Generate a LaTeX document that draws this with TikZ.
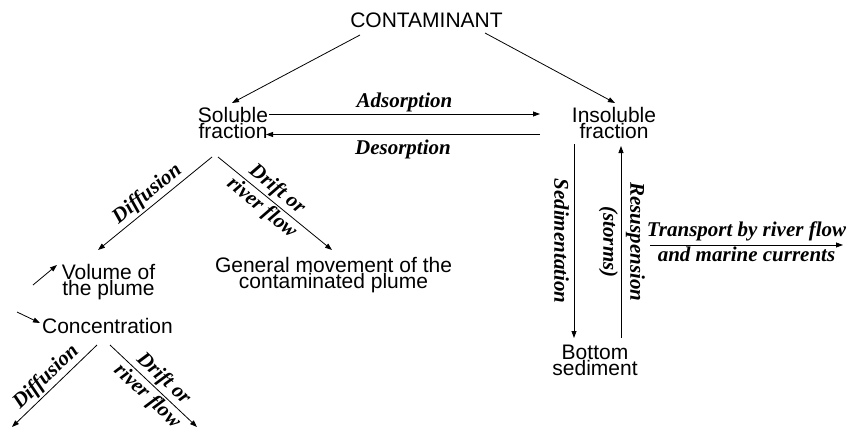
\documentclass[tikz,border=0pt]{standalone}
\usepackage{fontspec}
\setmainfont{Liberation Sans}
\newfontfamily\labfont{Liberation Serif}
\usetikzlibrary{arrows.meta}
\begin{document}
\begin{tikzpicture}[x=1pt,y=-1pt,
  box/.style={inner sep=0pt, align=center, font=\fontsize{21}{16}\selectfont},
  lab/.style={font=\labfont\bfseries\itshape\fontsize{21}{24}\selectfont, inner sep=2pt},
  arr/.style={-{Triangle[length=7pt,width=5pt]}, line width=0.8pt},
  ln/.style={line width=0.8pt}]
\useasboundingbox (0,0) rectangle (849,436);

% nodes
\node[box, anchor=base] (cont) at (426.5,28) {CONTAMINANT};
\node[box] (sol) at (233,122.5) {Soluble\\fraction};
\node[box] (ins) at (614,122.5) {Insoluble\\fraction};
\node[box] (vol) at (108.5,281.6) {Volume of\\the plume};
\node[box, anchor=base] (conc) at (107.5,333) {Concentration};
\node[box] (gen) at (333.5,274.6) {General movement of the\\contaminated plume};
\node[box] (bot) at (595,360.5) {Bottom\\sediment};

% free ends
\coordinate (vin) at (33,285);
\coordinate (cin) at (17,312);
\coordinate (ldiff) at (12,427);
\coordinate (ldrift) at (197,427);
\coordinate (trA) at (650,245);
\coordinate (trB) at (843,245);

% contaminant split
\draw[arr] ([xshift=-66.5pt,yshift=-7pt]cont.base) -- ([xshift=-1pt,yshift=19.5pt]sol.center);
\draw[arr] ([xshift=58.5pt,yshift=-5pt]cont.base) -- ([xshift=1pt,yshift=19.5pt]ins.center);

% adsorption / desorption
\draw[arr] ([xshift=36pt,yshift=8.5pt]sol.center) -- ([xshift=-74pt,yshift=8.5pt]ins.center)
  node[lab, midway, above] {Adsorption};
\draw[arr] ([xshift=-74pt,yshift=-12pt]ins.center) -- ([xshift=33pt,yshift=-12pt]sol.center)
  node[lab, midway, below, yshift=-3pt] {Desorption};

% soluble branches
\draw[arr] ([xshift=-21pt,yshift=-34.5pt]sol.center) -- ([xshift=-10.5pt,yshift=31.6pt]vol.center)
  node[lab, pos=0.5, sloped, above] {Diffusion};
\draw[arr] ([xshift=-15pt,yshift=-34.5pt]sol.center) -- ([xshift=-1.5pt,yshift=24.6pt]gen.center)
  node[lab, pos=0.45, sloped, above] {Drift or}
  node[lab, pos=0.45, sloped, below] {river flow};

% small arrows
\draw[arr] (vin) -- ([xshift=-51.5pt,yshift=16.6pt]vol.center);
\draw[arr] (cin) -- ([xshift=-67.5pt,yshift=10pt]conc.base);

% concentration branches
\draw[arr] ([xshift=-10.5pt,yshift=-12pt]conc.base) -- (ldiff)
  node[lab, pos=0.5, sloped, above] {Diffusion};
\draw[arr] ([xshift=2.5pt,yshift=-12pt]conc.base) -- (ldrift)
  node[lab, pos=0.52, sloped, above] {Drift or}
  node[lab, pos=0.52, sloped, below] {river flow};

% sedimentation / resuspension
\draw[arr] ([xshift=-40pt,yshift=-21.5pt]ins.center) -- ([xshift=-21pt,yshift=22.5pt]bot.center)
  node[lab, pos=0.5, rotate=-90, anchor=north, outer sep=3pt] {Sedimentation};
\draw[arr] ([xshift=26pt,yshift=22.5pt]bot.center) -- ([xshift=7pt,yshift=-23.5pt]ins.center)
  node[lab, pos=0.5, rotate=-90, anchor=south, outer sep=3pt] {Resuspension}
  node[lab, pos=0.5, rotate=-90, anchor=north, outer sep=1pt] {(storms)};

% transport
\draw[arr] (trA) -- (trB)
  node[lab, midway, above, yshift=2pt] {Transport by river flow}
  node[lab, midway, below] {and marine currents};
\end{tikzpicture}
\end{document}
